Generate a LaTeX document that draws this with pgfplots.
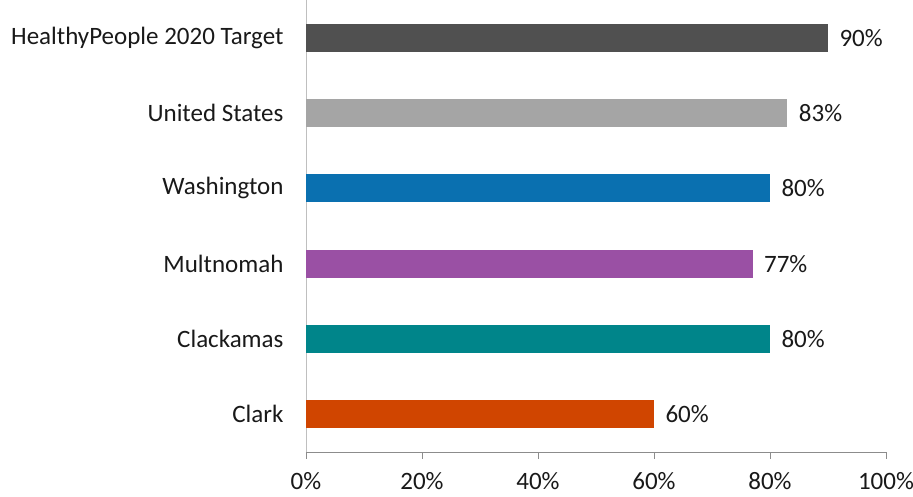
\documentclass[border=0pt]{standalone}
\usepackage{fontspec}
\setmainfont{Carlito}
\usepackage{pgfplots}
\pgfplotsset{compat=1.18}
\definecolor{cTarget}{HTML}{505050}
\definecolor{cUS}{HTML}{A5A5A5}
\definecolor{cWA}{HTML}{0A70B0}
\definecolor{cMult}{HTML}{9A50A4}
\definecolor{cClack}{HTML}{00858A}
\definecolor{cClark}{HTML}{D04500}
\definecolor{axgray}{HTML}{BFBFBF}
\begin{document}
\begin{tikzpicture}
\path[use as bounding box] (-306pt,-45pt) rectangle (607pt,452pt);
\begin{axis}[
  at={(0,0)}, anchor=south west,
  scale only axis,
  width=580pt, height=452pt,
  xbar, bar width=28pt, bar shift=0pt,
  xmin=0, xmax=100,
  ymin=-0.5, ymax=5.5,
  xtick={0,20,40,60,80,100},
  xticklabel={\pgfmathprintnumber{\tick}\%},
  ytick={0,1,2,3,4,5},
  yticklabels={Clark,Clackamas,Multnomah,Washington,United States,HealthyPeople 2020 Target},
  axis x line*=bottom, axis y line*=left,
  x axis line style={draw=gray!90, -},
  y axis line style={draw=axgray, -},
  xtick style={draw=gray!90, line width=0.8pt},
  ytick style={draw=none},
  tick align=outside, major tick length=7pt,
  every axis plot/.append style={draw=none},
  /pgf/number format/assume math mode=true,
  tick label style={font=\fontsize{25}{29}\selectfont, text=black!90},
  yticklabel style={xshift=-12pt},
  xticklabel style={yshift=-10pt},
  point meta=explicit symbolic,
  nodes near coords={\pgfplotspointmeta},
  nodes near coords style={font=\fontsize{25}{29}\selectfont, anchor=west, xshift=8pt, text=black!90},
  clip=false,
]
\addplot[fill=cClark] coordinates {(60,0) [60\%]};
\addplot[fill=cClack] coordinates {(80,1) [80\%]};
\addplot[fill=cMult] coordinates {(77,2) [77\%]};
\addplot[fill=cWA] coordinates {(80,3) [80\%]};
\addplot[fill=cUS] coordinates {(83,4) [83\%]};
\addplot[fill=cTarget] coordinates {(90,5) [90\%]};
\end{axis}
\end{tikzpicture}
\end{document}
